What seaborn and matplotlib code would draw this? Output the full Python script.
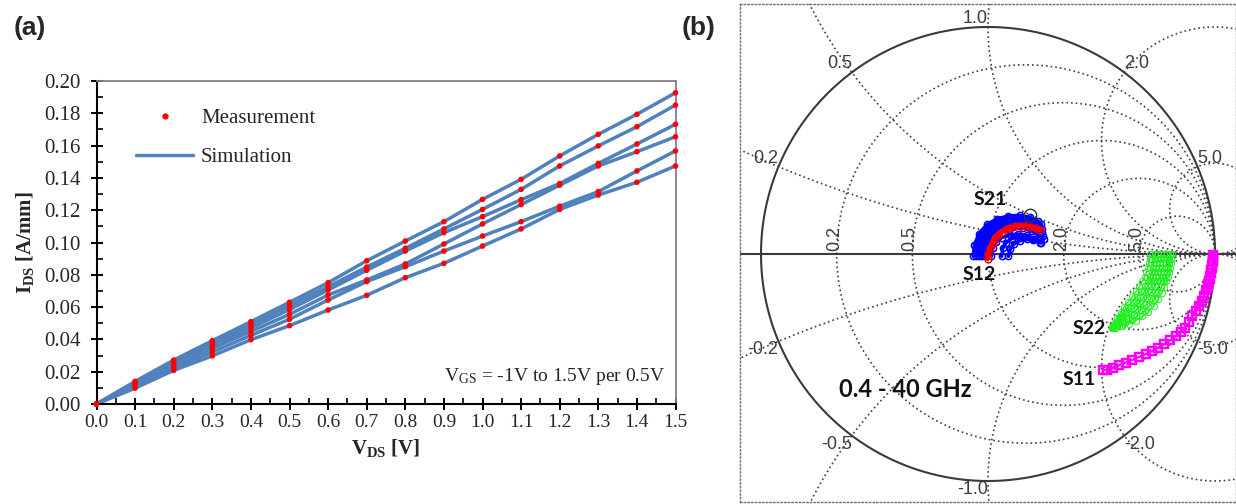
import numpy as np
import pandas as pd
import matplotlib
matplotlib.use('Agg')
import matplotlib.pyplot as plt
from matplotlib.ticker import MultipleLocator, FormatStrFormatter
from matplotlib.lines import Line2D
import seaborn as sns

# ---------------- (a) I-V curves ----------------
vds = [0.0, 0.1, 0.2, 0.3, 0.4, 0.5, 0.6, 0.7, 0.8, 0.9, 1.0, 1.1, 1.2, 1.3, 1.4, 1.5]
ids_vgs_p15 = [0, 0.0140, 0.0272, 0.0392, 0.0510, 0.0630, 0.0751, 0.0887, 0.1009, 0.1129, 0.1267, 0.1391, 0.1536, 0.1670, 0.1794, 0.1927]
ids_vgs_p10 = [0, 0.0132, 0.0262, 0.0378, 0.0492, 0.0608, 0.0726, 0.0848, 0.0964, 0.1084, 0.1205, 0.1329, 0.1474, 0.1598, 0.1717, 0.1851]
ids_vgs_p05 = [0, 0.0125, 0.0252, 0.0362, 0.0472, 0.0585, 0.0706, 0.0828, 0.0947, 0.1061, 0.1160, 0.1265, 0.1365, 0.1490, 0.1610, 0.1732]
ids_vgs_00 = [0, 0.0118, 0.0240, 0.0345, 0.0450, 0.0555, 0.0675, 0.0768, 0.0867, 0.0991, 0.1115, 0.1235, 0.1355, 0.1474, 0.1562, 0.1655]
ids_vgs_m05 = [0, 0.0108, 0.0225, 0.0322, 0.0425, 0.0525, 0.0644, 0.0758, 0.0850, 0.0947, 0.1040, 0.1129, 0.1225, 0.1315, 0.1443, 0.1567]
ids_vgs_m10 = [0, 0.0098, 0.0208, 0.0298, 0.0398, 0.0485, 0.0582, 0.0673, 0.0782, 0.0871, 0.0978, 0.1084, 0.1205, 0.1294, 0.1373, 0.1474]

# ---------------- (b) Smith chart ----------------
r_circles = [0.2, 0.5, 1.0, 2.0, 5.0]
x_circles = [0.2, 0.5, 1.0, 2.0, 5.0, -0.2, -0.5, -1.0, -2.0, -5.0]
r_labels = [0.2, 0.5, 2.0, 5.0]

s11 = [(0.993, -0.004), (0.992, -0.015), (0.991, -0.026), (0.990, -0.037), (0.988, -0.048),
       (0.986, -0.060), (0.984, -0.072), (0.982, -0.084), (0.980, -0.096), (0.977, -0.108),
       (0.974, -0.120), (0.971, -0.133), (0.967, -0.146), (0.962, -0.160), (0.952, -0.185),
       (0.942, -0.207), (0.930, -0.228), (0.915, -0.250), (0.900, -0.275), (0.887, -0.300),
       (0.870, -0.325), (0.850, -0.345), (0.826, -0.362), (0.802, -0.380), (0.776, -0.397),
       (0.750, -0.412), (0.722, -0.428), (0.694, -0.441), (0.665, -0.454), (0.636, -0.466),
       (0.607, -0.478), (0.578, -0.490), (0.550, -0.502), (0.525, -0.510), (0.508, -0.511)]

s22_1 = [(0.809, 0.0), (0.808, -0.02), (0.806, -0.04), (0.803, -0.06), (0.799, -0.08), (0.793, -0.10),
         (0.786, -0.12), (0.777, -0.145), (0.765, -0.17), (0.750, -0.20), (0.730, -0.23), (0.706, -0.255),
         (0.680, -0.275), (0.650, -0.293), (0.620, -0.307), (0.590, -0.317), (0.565, -0.324), (0.545, -0.327)]
s22_2 = [(0.800, 0.0), (0.799, -0.02), (0.796, -0.04), (0.793, -0.06), (0.788, -0.08), (0.782, -0.10),
         (0.774, -0.12), (0.764, -0.144), (0.751, -0.169), (0.734, -0.197), (0.714, -0.226), (0.690, -0.250),
         (0.663, -0.271), (0.634, -0.289), (0.605, -0.303), (0.578, -0.315), (0.555, -0.324)]
s22_3 = [(0.790, 0.0), (0.789, -0.02), (0.786, -0.04), (0.782, -0.06), (0.777, -0.08), (0.770, -0.10),
         (0.761, -0.12), (0.750, -0.143), (0.736, -0.167), (0.718, -0.195), (0.697, -0.222), (0.672, -0.246),
         (0.645, -0.267), (0.617, -0.285), (0.590, -0.300), (0.567, -0.313), (0.550, -0.322)]
s22_4 = [(0.776, 0.0), (0.775, -0.02), (0.772, -0.04), (0.768, -0.06), (0.762, -0.08), (0.755, -0.10),
         (0.745, -0.12), (0.734, -0.142), (0.720, -0.166), (0.702, -0.192), (0.681, -0.218), (0.657, -0.242),
         (0.631, -0.263), (0.606, -0.282), (0.582, -0.299), (0.561, -0.314), (0.548, -0.323)]
s22_5 = [(0.762, 0.0), (0.761, -0.02), (0.758, -0.04), (0.754, -0.06), (0.748, -0.08), (0.740, -0.10),
         (0.730, -0.12), (0.718, -0.142), (0.703, -0.165), (0.685, -0.19), (0.664, -0.215), (0.641, -0.238),
         (0.617, -0.259), (0.594, -0.279), (0.573, -0.298), (0.556, -0.314)]
s22_6 = [(0.748, 0.0), (0.747, -0.02), (0.744, -0.04), (0.740, -0.06), (0.734, -0.08), (0.726, -0.10),
         (0.716, -0.12), (0.704, -0.142), (0.689, -0.165), (0.671, -0.189), (0.650, -0.213), (0.628, -0.236),
         (0.606, -0.258), (0.585, -0.279), (0.567, -0.299), (0.552, -0.318)]
s22_7 = [(0.735, 0.0), (0.734, -0.02), (0.731, -0.04), (0.727, -0.06), (0.721, -0.08), (0.713, -0.10),
         (0.703, -0.12), (0.690, -0.142), (0.675, -0.165), (0.657, -0.188), (0.637, -0.21), (0.617, -0.232),
         (0.597, -0.255), (0.578, -0.278), (0.562, -0.300), (0.549, -0.320)]
s22_8 = [(0.714, 0.0), (0.712, -0.02), (0.709, -0.04), (0.704, -0.06), (0.698, -0.08), (0.690, -0.10),
         (0.680, -0.12), (0.667, -0.142), (0.652, -0.165), (0.636, -0.187), (0.618, -0.21), (0.600, -0.233),
         (0.584, -0.256), (0.569, -0.28), (0.556, -0.303), (0.545, -0.325)]

s21_1 = [(-0.065, -0.01), (-0.060, 0.04), (-0.040, 0.09), (-0.005, 0.13), (0.040, 0.155), (0.090, 0.168),
         (0.140, 0.170), (0.185, 0.162), (0.220, 0.145), (0.235, 0.130)]
s21_2 = [(-0.052, -0.01), (-0.047, 0.038), (-0.028, 0.085), (0.005, 0.12), (0.048, 0.144), (0.095, 0.156),
         (0.143, 0.157), (0.188, 0.146), (0.223, 0.128), (0.238, 0.112)]
s21_3 = [(-0.040, -0.01), (-0.035, 0.035), (-0.015, 0.08), (0.015, 0.11), (0.055, 0.132), (0.100, 0.143),
         (0.145, 0.143), (0.190, 0.130), (0.225, 0.110), (0.240, 0.095)]
s21_4 = [(-0.028, -0.01), (-0.022, 0.032), (-0.005, 0.072), (0.025, 0.101), (0.062, 0.120), (0.105, 0.130),
         (0.150, 0.128), (0.193, 0.115), (0.228, 0.094), (0.243, 0.080)]
s21_5 = [(-0.015, -0.01), (-0.010, 0.03), (0.005, 0.065), (0.035, 0.092), (0.070, 0.108), (0.110, 0.117),
         (0.155, 0.114), (0.195, 0.100), (0.230, 0.078), (0.245, 0.065)]
s21_6 = [(0.015, -0.01), (0.020, 0.025), (0.035, 0.052), (0.060, 0.072), (0.095, 0.085), (0.130, 0.088),
         (0.170, 0.082), (0.205, 0.066), (0.235, 0.048)]
s21_7 = [(0.060, -0.01), (0.065, 0.025), (0.080, 0.05), (0.105, 0.068), (0.135, 0.075), (0.170, 0.074),
         (0.200, 0.068), (0.230, 0.050)]
s21_8 = [(0.090, -0.01), (0.097, 0.02), (0.115, 0.045), (0.140, 0.058), (0.170, 0.065), (0.200, 0.060)]

s12 = [(-0.002, -0.02), (0.002, 0.0), (0.009, 0.025), (0.020, 0.05), (0.031, 0.069), (0.045, 0.085),
       (0.060, 0.098), (0.080, 0.108), (0.097, 0.116), (0.120, 0.122), (0.141, 0.125), (0.165, 0.124),
       (0.185, 0.120), (0.210, 0.113), (0.229, 0.106)]
marker_pt = [(0.185, 0.172)]

sns.set_theme(style='white')
plt.rcParams['font.family'] = ['Liberation Serif', 'DejaVu Serif']
plt.rcParams['mathtext.fontset'] = 'custom'
plt.rcParams['mathtext.rm'] = 'Liberation Serif'
plt.rcParams['mathtext.it'] = 'Liberation Serif:italic'
plt.rcParams['mathtext.bf'] = 'Liberation Serif:bold'

fig = plt.figure(figsize=(12.36, 5.04), dpi=100)

# ------------- panel (a) -------------
ax = fig.add_axes([96.5 / 1236, 100 / 504, 579 / 1236, 323 / 504])
series = {'1.5': ids_vgs_p15, '1.0': ids_vgs_p10, '0.5': ids_vgs_p05,
          '0.0': ids_vgs_00, '-0.5': ids_vgs_m05, '-1.0': ids_vgs_m10}
iv = pd.concat([pd.DataFrame({'vds': vds, 'ids': v, 'vgs': k}) for k, v in series.items()])

sns.lineplot(data=iv, x='vds', y='ids', units='vgs', estimator=None, sort=False,
             color='#4f81bd', lw=2.5, legend=False, ax=ax)
sns.scatterplot(data=iv, x='vds', y='ids', color='red', s=16, edgecolor='none',
                legend=False, ax=ax, zorder=3, clip_on=False)

ax.set_xlim(0, 1.5)
ax.set_ylim(0, 0.2)
ax.xaxis.set_major_locator(MultipleLocator(0.1))
ax.xaxis.set_minor_locator(MultipleLocator(0.05))
ax.yaxis.set_major_locator(MultipleLocator(0.02))
ax.yaxis.set_minor_locator(MultipleLocator(0.01))
ax.xaxis.set_major_formatter(FormatStrFormatter('%.1f'))
ax.yaxis.set_major_formatter(FormatStrFormatter('%.2f'))
ax.tick_params(which='major', direction='inout', length=9, width=1.4, color='black',
               bottom=True, left=True)
ax.tick_params(axis='x', which='major', labelsize=14, pad=3)
ax.tick_params(axis='y', which='major', labelsize=15, pad=7)
ax.tick_params(which='minor', direction='in', length=4, width=1.2, color='black',
               bottom=True, left=True)
for s in ['left', 'bottom']:
    ax.spines[s].set_color('black')
    ax.spines[s].set_linewidth(1.5)
for s in ['top', 'right']:
    ax.spines[s].set_color('#808080')
    ax.spines[s].set_linewidth(1.3)

ax.set_xlabel(r'$\mathbf{V_{DS}}$ [V]', fontsize=15, fontweight='bold', labelpad=4)
ax.set_ylabel(r'$\mathbf{I_{DS}}$ [A/mm]', fontsize=15, fontweight='bold', labelpad=6)

handles = [Line2D([], [], marker='o', ls='none', color='red', ms=3.5),
           Line2D([], [], color='#4f81bd', lw=2.5)]
ax.legend(handles, ['Measurement', 'Simulation'], loc='upper left',
          bbox_to_anchor=(0.069, 0.915), frameon=False, fontsize=15,
          handlelength=2.7, handletextpad=0.4, labelspacing=0.95,
          borderpad=0, borderaxespad=0)
ax.text(0.982, 0.085, r'V$_{\mathrm{GS}}$ = -1V to 1.5V per 0.5V', transform=ax.transAxes,
        ha='right', va='center', fontsize=14)

# ------------- panel (b) -------------
sx = fig.add_axes([740 / 1236, 2 / 504, 496 / 1236, 498 / 504])
sx.set_xlim(-1.0925, 1.0925)
sx.set_ylim(-1.0925, 1.1013)
sx.set_xticks([])
sx.set_yticks([])
for s in sx.spines.values():
    s.set_linestyle(':')
    s.set_color('#707070')
    s.set_linewidth(1.0)

grid_kw = dict(color='#404040', lw=1.2, ls=(0, (1, 1.8)), zorder=1)
t = np.linspace(0, 2 * np.pi, 3000)
for r in r_circles:
    c, rad = r / (1 + r), 1 / (1 + r)
    sx.plot(c + rad * np.cos(t), rad * np.sin(t), **grid_kw)
for xv in x_circles:
    rad = 1 / abs(xv)
    sx.plot(1 + rad * np.cos(t), 1 / xv + rad * np.sin(t), **grid_kw)
sx.plot(np.cos(t), np.sin(t), color='#3a3a3a', lw=1.5, zorder=2)
sx.axhline(0, color='#3a3a3a', lw=1.5, zorder=2)

lab_kw = dict(fontsize=13, color='#3c3c3c', family='Liberation Sans')
for xv in x_circles:
    px, py = (xv ** 2 - 1) / (xv ** 2 + 1), 2 * xv / (xv ** 2 + 1)
    sx.text(px, py, f'{xv:.1f}', ha='right' if px <= 0 else 'left',
            va='bottom' if py > 0 else 'top', **lab_kw)
for r in r_labels:
    gx = (r - 1) / (r + 1)
    sx.text(gx - 0.01, 0.015, f'{r:.1f}', rotation=90, ha='center', va='bottom', **lab_kw)


def trace(pts, color, marker, ms, lw, mew, ls='-'):
    d = pd.DataFrame(pts, columns=['re', 'im'])
    sns.lineplot(data=d, x='re', y='im', sort=False, estimator=None, color=color, lw=lw, ls=ls,
                 marker=marker, ms=ms, markerfacecolor='none', markeredgecolor=color,
                 markeredgewidth=mew, ax=sx, zorder=4)


for tr in [s22_1, s22_2, s22_3, s22_4, s22_5, s22_6, s22_7, s22_8]:
    trace(tr, '#22ee22', 'o', 4.5, 1.0, 0.7)
trace(s11, '#ff00ff', 's', 6, 1.5, 1.7)
for tr in [s21_1, s21_2, s21_3, s21_4, s21_5, s21_6, s21_7, s21_8]:
    trace(tr, '#0000ff', 'o', 4.5, 2.5, 1.1)
trace(s12, '#ff0000', 'o', 5, 3.5, 1.0)
trace(marker_pt, '#333333', 'o', 9, 0, 1.0, ls='none')

bold_kw = dict(fontsize=14, fontweight='bold', family='Lato', color='#111111', ha='center', va='center')
sx.text(0.009, 0.238, 'S21', **bold_kw)
sx.text(-0.037, -0.09, 'S12', **bold_kw)
sx.text(0.445, -0.328, 'S22', **bold_kw)
sx.text(0.40, -0.553, 'S11', **bold_kw)
sx.text(-0.366, -0.599, '0.4 - 40 GHz', fontsize=17, fontweight='bold', family='Lato',
        color='#111111', ha='center', va='center')
sx.set_xlabel('')
sx.set_ylabel('')

fig.text(30 / 1236, 1 - 28 / 504, '(a)', ha='center', va='center', fontsize=19,
         fontweight='bold', family='Liberation Sans')
fig.text(699 / 1236, 1 - 28 / 504, '(b)', ha='center', va='center', fontsize=19,
         fontweight='bold', family='Liberation Sans')

fig.savefig('out.png', dpi=100)
